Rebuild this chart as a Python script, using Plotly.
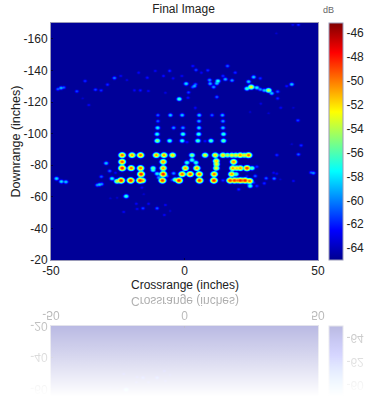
import numpy as np
import plotly.graph_objects as go

# ---- scattered returns: crossrange (in), downrange (in), level (dB) ----
upper_x = [-10.1,-5.4,-1.0,5.4,10.2,14.1, -10.1,5.3,14.3, -10.2,-4.2,-0.7,5.3,14.3, -10.4,-0.7,5.2,14.5, -10.3,-5.7,-1.0,4.9,9.8,14.5, 0.8,7.6]
upper_y = [-112,-112,-112,-112,-112,-112, -108.2,-108.2,-108.2, -104,-104,-104,-104,-104, -100,-100,-100,-100, -95.8,-95.8,-95.8,-95.8,-95.8,-95.8, -95,-95.6]
upper_db = [-60,-58,-58,-58,-60,-58.5, -60,-58.5,-59, -57,-59,-59,-57.5,-58, -56.5,-56,-56,-56, -54,-56,-56.5,-55.5,-55.5,-55, -61.5,-61.5]

row1_x = [-23.5,-19.8,-16.6,-10.7,-7.8,-4.6,2.7,7.6,11.4,14.3,16.0,17.6,19.1,20.8,22.3,23.9]
row1_y = [-86.7]*16
row1_db = [-49,-50,-49,-50,-50,-51,-54,-52,-51,-51,-53,-52,-52,-50,-52,-49]

row2_x = [-29.5,-23.5,-8.1,0.8,2.7,4.2,11.8,11.9,18.3]
row2_y = [-81.6,-82.5,-82.5,-82.0,-83.6,-82.0,-83.0,-81.0,-82.5]
row2_db = [-58,-48.5,-50,-56,-56,-56,-51,-52,-49.5]

row3_x = [-23.5,-20.1,-16.6,-11.9,-8.1,0.2,4.5,11.8,18.0,19.5,20.8,23.3,25.2]
row3_y = [-78.5]*12 + [-78.5]
row3_db = [-47.5,-49,-49,-55,-50,-50,-50,-52,-50,-51,-50,-48,-55]

row4_x = [-16.4,-8.1,-1.0,2.0,5.4,11.0,17.6,19.2]
row4_y = [-74.7]*8
row4_db = [-47.5,-47.5,-49,-48.5,-49,-49,-50,-55]

row5_x = [-25.4,-23.9,-20.3,-16.8,-15.9,-8.4,-2.2,-3.6,5.5,10.9,17.0,18.6,19.8,20.8,21.8,22.6,24.3]
row5_y = [-70.2,-70.7,-70.7,-70.7,-70.7,-70.7,-70.7,-71.2,-70.7,-70.7,-70.7,-70.7,-70.7,-70.7,-70.7,-70.7,-70.4]
row5_db = [-53,-47.5,-47.5,-47.5,-50,-48,-47.5,-54,-48,-47.5,-48,-48,-49,-47.5,-49,-47.5,-49]

near_x = [-28.2,-31.3,-27.3,-26.0,-11.9,-10.4,-9.8,-6.7,-4.2,-4.8,14.3,23.9,24.5,25.8,27.0,26.4,27.0,23.3,20.2]
near_y = [-76.7,-73.1,-71.9,-75.6,-77.3,-75.0,-72.5,-73.5,-75.2,-71.0,-70.8,-69.3,-67.2,-69.3,-67.2,-73.5,-79.4,-73.5,-65.1]
near_db = [-60,-60,-57,-62,-56,-57,-59,-60,-59,-61,-61,-57,-56,-61,-61,-60,-61,-62,-61]

far_x = [-47.6,-46.4,-45.4,-40.5,-37.4,-33.5,-31.4,-29.0,-26.4,-24.0,-21.7,-18.9,-16.7,-13.7,-17.3,-14.1,-11.1,-8.0,-5.7,-4.4,-1.1,0.5,3.0,4.0,4.2,3.0,1.4,-2.1,1.2,3.9,-7.3,-36.0,-38.3,-49.8]
far_y = [-128.5,-129.2,-129.5,-127.1,-133.6,-128.1,-127.7,-131.3,-135.5,-136.8,-134.2,-127.7,-127.7,-127.3,-138.9,-135.7,-140.0,-136.8,-140.0,-135.3,-136.8,-131.9,-129.8,-131.5,-140.6,-143.1,-126.4,-122.2,-123.0,-116.7,-126.2,-118.4,-122.6,-121.0]
far_db = [-60,-58.5,-60,-60.5,-61,-60.5,-61,-61,-59.5,-62,-62.5,-62,-61.5,-62,-62,-61.5,-62,-61.5,-61,-62,-62,-57.5,-60,-60,-60.5,-61.5,-60.5,-56,-61.5,-62,-62.5,-62,-63,-63]

right_x = [3.6,9.3,9.5,10.8,12.4,12.0,15.2,17.7,16.0,14.3,18.9,8.6,6.2,12.0,24.9,23.3,27.0,28.3,31.4,29.8,32.6,34.8,34.8,25.8,23.9,28.3,40.1,38.2,42.4,42.6,40.5,34.3,36.0,28.5,24.5,31.4,40.7,3.9]
right_y = [-130.4,-134.2,-131.9,-129.8,-133.6,-132.1,-134.7,-134.0,-143.1,-136.8,-138.9,-140.4,-138.9,-123.5,-129.8,-128.8,-129.4,-128.3,-127.7,-127.7,-125.8,-126.9,-122.6,-136.1,-133.2,-135.3,-131.5,-130.4,-108.7,-169.2,-169.2,-163.7,-116.7,-119.3,-114.0,-113.2,-116.7,-116.3]
right_db = [-58.5,-59,-58.5,-59,-56.5,-58,-58.5,-59,-60,-61,-61,-61,-62,-60,-52,-56,-57,-59,-53,-58,-58,-60,-61,-58,-58,-61,-58,-61.5,-60.5,-61,-62,-63,-62,-62.5,-63,-63,-63,-62.5]

low_x = [-48.1,-46.3,-44.6,-32.8,-32.0,-31.2,-22.0,-27.9,-25.4,-18.2,-15.7,-17.9,-13.6,-10.4,-7.3,-7.7,-22.9,-16.1,-15.4,-5.5,48.2,47.4,43.6,42.6,34.5,40.1,33.3,34.5,33.5,30.5,29.8,40.7,35.8]
low_y = [-71.9,-70.0,-69.8,-67.8,-68.1,-68.4,-60.7,-59.4,-59.8,-56.0,-53.1,-52.7,-56.0,-53.1,-55.2,-48.9,-50.8,-66.2,-62.0,-51.4,-75.4,-75.7,-92.9,-87.2,-86.8,-93.6,-75.6,-75.0,-71.9,-72.1,-68.9,-70.4,-71.4]
low_db = [-57.5,-57.5,-58,-59,-58,-59,-56,-63,-63,-62,-60.5,-62,-62,-60,-62,-62,-62,-62,-63,-63,-59,-60,-61,-60,-61,-63,-62,-62,-59.5,-60,-61,-62,-63]

x_ticks = [-50, 0, 50]
x_labels = ["-50", "0", "50"]
y_ticks = [-160, -140, -120, -100, -80, -60, -40, -20]
y_labels = ["-160", "-140", "-120", "-100", "-80", "-60", "-40", "-20"]
db_ticks = [-64, -62, -60, -58, -56, -54, -52, -50, -48, -46]
db_labels = ["-64", "-62", "-60", "-58", "-56", "-54", "-52", "-50", "-48", "-46"]

FLOOR_DB = -64.8
DB_MIN, DB_MAX = -65.0, -45.15
jet = [[0, "#00008f"], [0.125, "#0000ff"], [0.375, "#00ffff"], [0.625, "#ffff00"], [0.875, "#ff0000"], [1, "#800000"]]

# image raster: each return is a small point-spread blob around its level
xs = np.arange(-50, 50.01, 0.375)
ys = np.arange(-170, -19.99, 0.6325)
X, Y = np.meshgrid(xs, ys)
Z = np.full(X.shape, FLOOR_DB)
spots = zip(upper_x + row1_x + row2_x + row3_x + row4_x + row5_x + near_x + far_x + right_x + low_x,
            upper_y + row1_y + row2_y + row3_y + row4_y + row5_y + near_y + far_y + right_y + low_y,
            upper_db + row1_db + row2_db + row3_db + row4_db + row5_db + near_db + far_db + right_db + low_db)
for sx, sy, sdb in spots:
    Z = np.maximum(Z, sdb - 0.75 * ((X - sx) * 2.67) ** 2 - 1.25 * ((Y - sy) * 1.581) ** 2)
# the reference raster is slightly soft
kernel = np.array([0.15, 0.7, 0.15])
Z = np.apply_along_axis(lambda a: np.convolve(a, kernel, mode="same"), 0, Z)
Z = np.apply_along_axis(lambda a: np.convolve(a, kernel, mode="same"), 1, Z)
Z[[0, -1], :] = FLOOR_DB
Z[:, [0, -1]] = FLOOR_DB
Z = np.round(Z, 1)

ink = "#222222"
text_family = "Liberation Sans, Arial, sans-serif"
axis_font = dict(family=text_family, size=12, color=ink)

fig = go.Figure(go.Heatmap(
    x=xs, y=ys, z=Z, zmin=DB_MIN, zmax=DB_MAX, colorscale=jet, zsmooth="best",
    hoverinfo="skip",
    colorbar=dict(x=1.041, xanchor="left", xref="paper", y=0, yanchor="bottom", yref="paper",
                  len=1, lenmode="fraction", thickness=14, thicknessmode="pixels",
                  tickmode="array", tickvals=db_ticks, ticktext=db_labels, tickfont=axis_font,
                  ticks="", ticklabelposition="outside", outlinecolor="#9a9ab8", outlinewidth=1,
                  xpad=0, ypad=0),
))
fig.update_layout(
    width=391, height=412, margin=dict(l=51, r=73, t=23, b=152, autoexpand=False),
    paper_bgcolor="white", plot_bgcolor="white", font=axis_font,
    title=dict(text="Final Image", x=183.5 / 391, xanchor="center", y=1 - 8.5 / 412, yanchor="middle",
               font=dict(family=text_family, size=12, color=ink)),
    xaxis=dict(range=[-50, 50], tickmode="array", tickvals=x_ticks, ticktext=x_labels, ticks="inside",
               ticklen=2, tickcolor="#000044", showgrid=False, zeroline=False, mirror=True, showline=True,
               linecolor="#9a9ab8", linewidth=1, automargin=False),
    yaxis=dict(range=[-20, -170], tickmode="array", tickvals=y_ticks, ticktext=y_labels, ticks="inside",
               ticklen=2, tickcolor="#000044", showgrid=False, zeroline=False, mirror=True, showline=True,
               linecolor="#9a9ab8", linewidth=1, automargin=False),
    annotations=[
        dict(text="dB", xref="paper", yref="paper", x=(336 - 51) / 267, y=1 + 13 / 237, yanchor="middle",
             showarrow=False, font=dict(family=text_family, size=9, color="#666666")),
        dict(text="Crossrange (inches)", xref="paper", yref="paper", x=0.5, y=-25 / 237, yanchor="middle",
             showarrow=False, font=dict(family=text_family, size=12, color=ink)),
        dict(text="Downrange (inches)", xref="paper", yref="paper", x=-36 / 267, y=0.5, xanchor="center",
             yanchor="middle", textangle=-90, showarrow=False, font=dict(family=text_family, size=12.5, color=ink)),
    ],
)

# glossy mirror reflection of the rendered chart underneath itself
mirror_js = """
document.documentElement.style.margin = '0';
document.body.style.margin = '0';
document.body.style.overflow = 'hidden';
(function () {
  var NS = 'http://www.w3.org/2000/svg';
  var gd = document.querySelector('.plotly-graph-div');
  var holder = gd.querySelector('.svg-container');
  var over = document.createElementNS(NS, 'svg');
  over.setAttribute('width', 391); over.setAttribute('height', 412);
  over.style.position = 'absolute'; over.style.left = '0'; over.style.top = '0';
  over.style.pointerEvents = 'none';
  over.innerHTML = '<defs><linearGradient id="rfl-g" gradientUnits="userSpaceOnUse" x1="0" x2="0" y1="293" y2="397">' +
    '<stop offset="0" stop-color="#fff" stop-opacity="0.40"/><stop offset="1" stop-color="#fff" stop-opacity="0"/></linearGradient>' +
    '<mask id="rfl-m" maskUnits="userSpaceOnUse" x="0" y="0" width="391" height="412">' +
    '<rect x="0" y="293" width="391" height="119" fill="url(#rfl-g)"/></mask></defs>';
  var outer = document.createElementNS(NS, 'g'); outer.setAttribute('mask', 'url(#rfl-m)');
  var flip = document.createElementNS(NS, 'g'); flip.setAttribute('transform', 'translate(0,586) scale(1,-1)');
  holder.querySelectorAll('svg.main-svg').forEach(function (s) { flip.appendChild(s.cloneNode(true)); });
  outer.appendChild(flip); over.appendChild(outer); holder.appendChild(over);
  flip.querySelectorAll('text').forEach(function (t) {
    if (t.getBoundingClientRect().bottom > 408) { t.remove(); }
  });
})();
"""
fig.write_html("out.html", post_script=mirror_js, config=dict(displayModeBar=False))
